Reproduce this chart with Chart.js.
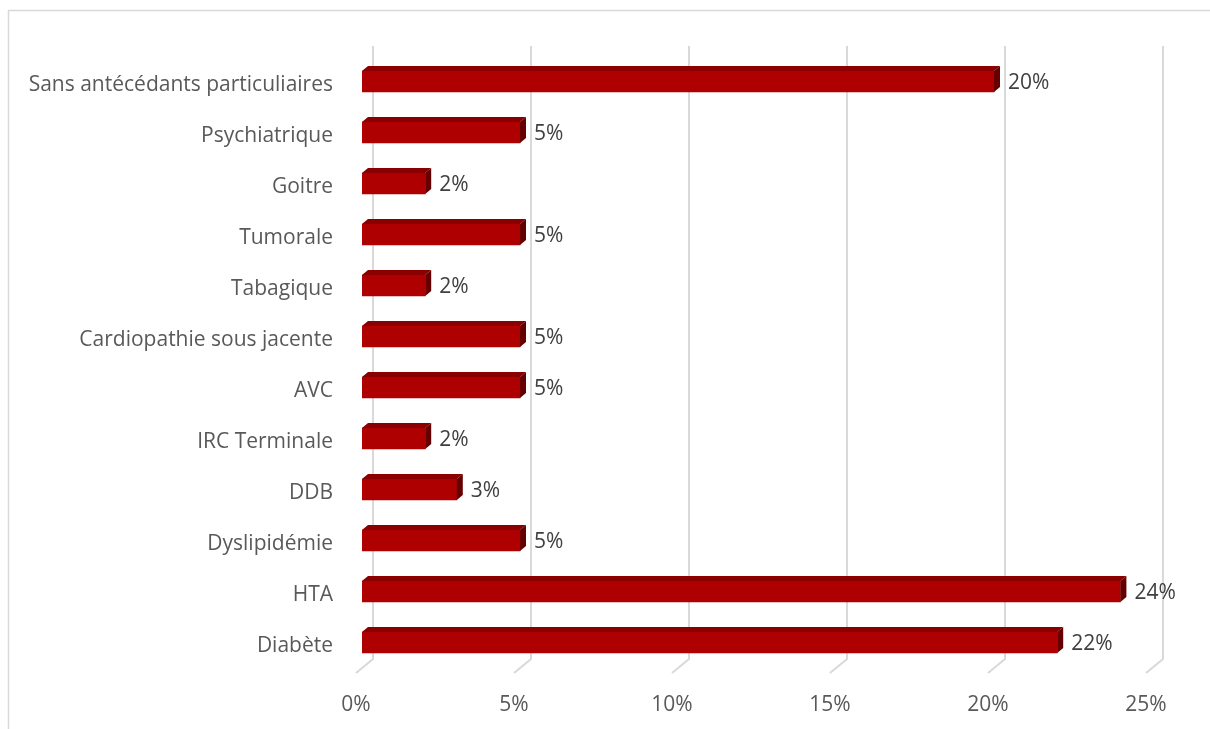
<!DOCTYPE html>
<html>
<head>
<meta charset="utf-8">
<script src="https://cdn.jsdelivr.net/npm/chart.js@4.4.1/dist/chart.umd.min.js"></script>
<style>
  body { margin: 0; background: #fff; }
  #wrap { width: 1210px; height: 729px; position: relative; }
</style>
</head>
<body>
<div id="wrap"><canvas id="antChart" width="1210" height="729"></canvas></div>
<script>
// antécédents des patients (% des cas)
const categories = [
  "Sans antécédants particuliaires",
  "Psychiatrique",
  "Goitre",
  "Tumorale",
  "Tabagique",
  "Cardiopathie sous jacente",
  "AVC",
  "IRC Terminale",
  "DDB",
  "Dyslipidémie",
  "HTA",
  "Diabète"
];
const percents = [20, 5, 2, 5, 2, 5, 5, 2, 3, 5, 24, 22];
const xTickValues = [0, 5, 10, 15, 20, 25];

const FONT = "'Open Sans', sans-serif";
const FONT_SIZE = 21;
const TEXT_COLOR = "#595959";
const GRID_COLOR = "#d9d9d9";
const DEPTH_X = 6, DEPTH_Y = -5; // fake 3d depth of the bars

// outer frame + back gridlines with the little "floor" foot
const backGrid = {
  id: "backGrid",
  beforeDraw(chart) {
    const ctx = chart.ctx;
    const area = chart.chartArea;
    const xs = chart.scales.x;
    ctx.save();
    ctx.fillStyle = "#fff";
    ctx.fillRect(0, 0, chart.width, chart.height);

    ctx.strokeStyle = GRID_COLOR;
    ctx.lineWidth = 1.5;
    ctx.beginPath();
    ctx.moveTo(8.5, chart.height);
    ctx.lineTo(8.5, 10.5);
    ctx.lineTo(chart.width, 10.5);
    ctx.stroke();

    ctx.lineWidth = 2;
    xTickValues.forEach(v => {
      const x = xs.getPixelForValue(v);
      ctx.beginPath();
      ctx.moveTo(x + 11, area.top - 10);
      ctx.lineTo(x + 11, area.bottom - 9);
      ctx.lineTo(x - 6, area.bottom + 5);
      ctx.stroke();
    });
    ctx.restore();
  }
};

// top + side faces and value labels
const bar3d = {
  id: "bar3d",
  afterDatasetsDraw(chart) {
    const ctx = chart.ctx;
    const meta = chart.getDatasetMeta(0);
    ctx.save();
    meta.data.forEach((bar, i) => {
      const top = bar.y - bar.height / 2;
      const bottom = bar.y + bar.height / 2;
      const x0 = bar.base, x1 = bar.x;

      // top face
      ctx.fillStyle = "#8a0000";
      ctx.beginPath();
      ctx.moveTo(x0, top);
      ctx.lineTo(x0 + DEPTH_X, top + DEPTH_Y);
      ctx.lineTo(x1 + DEPTH_X, top + DEPTH_Y);
      ctx.lineTo(x1, top);
      ctx.closePath();
      ctx.fill();

      // right side face
      ctx.fillStyle = "#650000";
      ctx.beginPath();
      ctx.moveTo(x1, top);
      ctx.lineTo(x1 + DEPTH_X, top + DEPTH_Y);
      ctx.lineTo(x1 + DEPTH_X, bottom + DEPTH_Y);
      ctx.lineTo(x1, bottom);
      ctx.closePath();
      ctx.fill();

      // value label
      ctx.fillStyle = "#404040";
      ctx.font = FONT_SIZE + "px " + FONT;
      ctx.textAlign = "left";
      ctx.textBaseline = "middle";
      ctx.fillText(percents[i] + "%", x1 + 14, bar.y + 2);
    });
    ctx.restore();
  }
};

new Chart(document.getElementById("antChart"), {
  type: "bar",
  data: {
    labels: categories,
    datasets: [{
      data: percents,
      backgroundColor: "#ae0000",
      borderWidth: 0,
      barThickness: 21
    }]
  },
  options: {
    indexAxis: "y",
    responsive: false,
    animation: false,
    layout: { padding: { top: 56, right: 58, bottom: 0, left: 0 } },
    plugins: {
      legend: { display: false },
      tooltip: { enabled: false }
    },
    scales: {
      x: {
        min: 0,
        max: 25,
        afterFit(scale) { scale.height = 61; },
        afterBuildTicks(scale) { scale.ticks = xTickValues.map(v => ({ value: v })); },
        grid: { display: false, drawTicks: false },
        border: { display: false },
        ticks: {
          padding: 24,
          labelOffset: -6,
          color: TEXT_COLOR,
          font: { family: FONT, size: FONT_SIZE },
          callback: v => v + "%"
        }
      },
      y: {
        afterFit(scale) { scale.width = 362; },
        grid: { display: false, drawTicks: false },
        border: { display: false },
        ticks: {
          padding: 29,
          labelOffset: 4,
          color: TEXT_COLOR,
          font: { family: FONT, size: FONT_SIZE }
        }
      }
    }
  },
  plugins: [backGrid, bar3d]
});
</script>
</body>
</html>
